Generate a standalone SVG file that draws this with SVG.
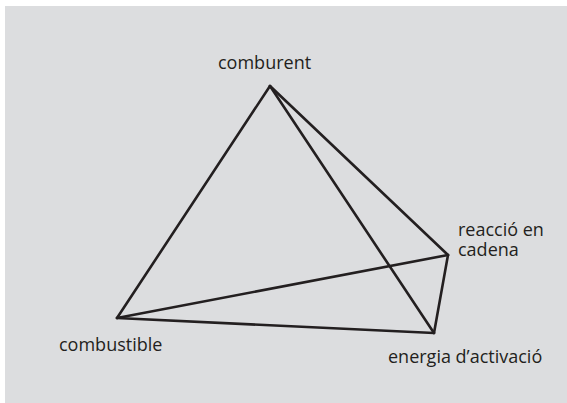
<svg xmlns="http://www.w3.org/2000/svg" width="567" height="403" viewBox="0 0 567 403">
<style>
.lbl{font-family:"Open Sans","Liberation Sans",sans-serif;font-size:18px;fill:#231f20}
.edge{stroke:#231f20;stroke-width:2.6;fill:none;stroke-linejoin:round;stroke-linecap:round}
</style>
<rect x="0" y="0" width="567" height="403" fill="#ffffff"/>
<rect x="5" y="6" width="562" height="397" fill="#dcdddf"/>
<g id="connectors">
<line class="edge" x1="270" y1="86" x2="117" y2="318"/>
<line class="edge" x1="270" y1="86" x2="434" y2="333"/>
<line class="edge" x1="270" y1="86" x2="448" y2="255"/>
<line class="edge" x1="117" y1="318" x2="448" y2="255"/>
<line class="edge" x1="117" y1="318" x2="434" y2="333"/>
<line class="edge" x1="448" y1="255" x2="434" y2="333"/>
</g>
<g id="comburent"><text class="lbl" x="218" y="69">comburent</text></g>
<g id="reaccio"><text class="lbl" x="458" y="236">reacció en</text><text class="lbl" x="458" y="256">cadena</text></g>
<g id="combustible"><text class="lbl" x="59" y="351">combustible</text></g>
<g id="energia"><text class="lbl" x="388" y="363">energia d’activació</text></g>
</svg>
